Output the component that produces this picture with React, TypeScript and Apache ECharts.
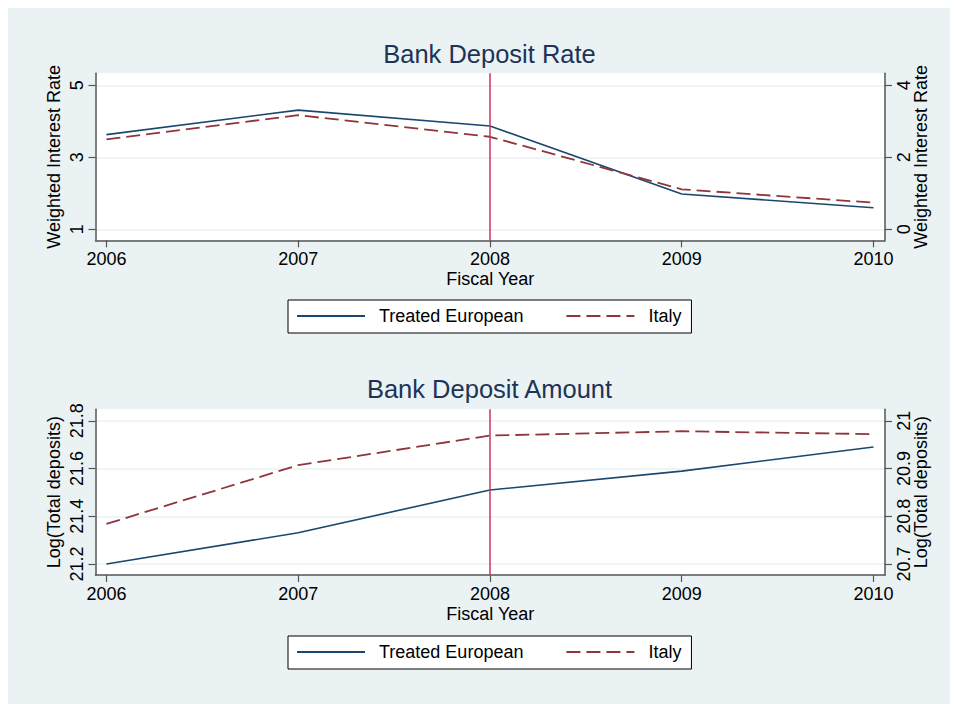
import React, { useEffect, useRef } from "react";
import * as echarts from "echarts";

const years = [2006, 2007, 2008, 2009, 2010];
const rateTreated = [3.63, 4.31, 3.87, 1.98, 1.6];
const rateItaly = [2.5, 3.17, 2.57, 1.11, 0.74];
const amountTreated = [21.2, 21.331, 21.51, 21.589, 21.69];
const amountItaly = [20.784, 20.907, 20.969, 20.978, 20.972];

const rateLeftTicks = [1, 3, 5];
const rateRightTicks = [0, 2, 4];
const amountLeftTicks = [21.2, 21.4, 21.6, 21.8];
const amountRightTicks = [20.7, 20.8, 20.9, 21];
const xLineYear = 2008;

const FONT = "'Liberation Sans', Arial, Helvetica, sans-serif";
const NAVY = "#1a476f";
const MAROON = "#90353b";
const AXIS = "#555555";
const BG = "#eaf2f3";

const pairs = (xs: number[], ys: number[]) => xs.map((x, i) => [x, ys[i]]);

function xAxis(gridIndex: number) {
  return {
    type: "value",
    gridIndex,
    min: 2005.943,
    max: 2010.06,
    name: "Fiscal Year",
    nameLocation: "middle",
    nameGap: 30,
    nameTextStyle: { fontSize: 18, color: "#000", fontFamily: FONT },
    axisLine: { show: true, onZero: false, lineStyle: { color: AXIS, width: 1.5 } },
    axisTick: { show: true, length: 7, customValues: years, lineStyle: { color: AXIS, width: 1.2 } },
    axisLabel: {
      customValues: years,
      formatter: (v: number) => String(v),
      fontSize: 18,
      color: "#000",
      fontFamily: FONT,
      margin: 10,
    },
    splitLine: { show: false },
  };
}

function yAxis(
  gridIndex: number,
  position: string,
  min: number,
  max: number,
  ticks: number[],
  name: string,
  grid: boolean
) {
  return {
    type: "value",
    gridIndex,
    position,
    min,
    max,
    name,
    nameLocation: "middle",
    nameRotate: 90,
    nameMoveOverlap: false,
    nameGap: position === "left" ? 33 : 27,
    nameTextStyle: { fontSize: 18, color: "#000", fontFamily: FONT },
    axisLine: { show: true, onZero: false, lineStyle: { color: AXIS, width: 1.5 } },
    axisTick: { show: true, length: 7, customValues: ticks, lineStyle: { color: AXIS, width: 1.2 } },
    axisLabel: {
      customValues: ticks,
      rotate: 90,
      fontSize: 18,
      color: "#000",
      fontFamily: FONT,
      margin: 10,
      formatter: (v: number) => String(Math.round(v * 10) / 10),
    },
    splitLine: { show: grid, lineStyle: { color: BG, width: 1.5 } },
  };
}

function legend(top: number) {
  return {
    data: ["Treated European", "Italy"],
    left: 280,
    top,
    orient: "horizontal",
    itemWidth: 68,
    itemHeight: 14,
    itemGap: 42,
    padding: [7, 10, 8, 8],
    backgroundColor: "#fff",
    borderColor: "#000",
    borderWidth: 1,
    borderRadius: 0,
    itemStyle: { color: "rgba(0,0,0,0)", borderWidth: 0, opacity: 0 },
    textStyle: { fontSize: 18, color: "#000", fontFamily: FONT, padding: [0, 0, 0, 9] },
  };
}

function xLineSeries(xAxisIndex: number, yAxisIndex: number) {
  return {
    type: "line",
    name: "xline",
    xAxisIndex,
    yAxisIndex,
    data: [],
    z: 1,
    markLine: {
      silent: true,
      symbol: "none",
      label: { show: false },
      lineStyle: { color: "#cc3361", width: 1.5, type: "solid" },
      data: [{ xAxis: xLineYear }],
    },
  };
}

function lineSeries(name: string, xAxisIndex: number, yAxisIndex: number, data: number[][], dashed: boolean) {
  return {
    type: "line",
    name,
    xAxisIndex,
    yAxisIndex,
    data,
    symbol: "none",
    z: 3,
    lineStyle: dashed
      ? { color: MAROON, width: 1.8, type: [14, 6] }
      : { color: NAVY, width: 1.6, type: "solid" },
    itemStyle: { color: dashed ? MAROON : NAVY },
  };
}

export default function App() {
  const ref = useRef<HTMLDivElement>(null);
  useEffect(() => {
    if (!ref.current) return;
    const chart = echarts.init(ref.current, undefined, { renderer: "svg" });
    chart.setOption({
      animation: false,
      backgroundColor: BG,
      textStyle: { fontFamily: FONT },
      title: [
        {
          text: "Bank Deposit Rate",
          left: 481.5,
          top: 32.8,
          textAlign: "center",
          padding: 0,
          textStyle: { fontSize: 25.5, fontWeight: "normal", color: "#213257", fontFamily: FONT },
        },
        {
          text: "Bank Deposit Amount",
          left: 481.5,
          top: 367.5,
          textAlign: "center",
          padding: 0,
          textStyle: { fontSize: 25.5, fontWeight: "normal", color: "#213257", fontFamily: FONT },
        },
      ],
      grid: [
        { left: 87.5, top: 65.3, width: 789.5, height: 167, show: true, backgroundColor: "#fff", borderWidth: 0 },
        { left: 87.5, top: 401.3, width: 789.5, height: 165.7, show: true, backgroundColor: "#fff", borderWidth: 0 },
      ],
      xAxis: [xAxis(0), xAxis(1)],
      yAxis: [
        yAxis(0, "left", 0.694, 5.333, rateLeftTicks, "Weighted Interest Rate", true),
        yAxis(0, "right", -0.306, 4.333, rateRightTicks, "Weighted Interest Rate", false),
        yAxis(1, "left", 21.154, 21.848, amountLeftTicks, "Log(Total deposits)", true),
        yAxis(1, "right", 20.677, 21.024, amountRightTicks, "Log(Total deposits)", false),
      ],
      legend: [legend(292), legend(628)],
      series: [
        xLineSeries(0, 0),
        lineSeries("Treated European", 0, 0, pairs(years, rateTreated), false),
        lineSeries("Italy", 0, 1, pairs(years, rateItaly), true),
        xLineSeries(1, 2),
        lineSeries("Treated European", 1, 2, pairs(years, amountTreated), false),
        lineSeries("Italy", 1, 3, pairs(years, amountItaly), true),
      ],
    });
    return () => chart.dispose();
  }, []);
  return <div ref={ref} style={{ width: 950, height: 696 }} />;
}
